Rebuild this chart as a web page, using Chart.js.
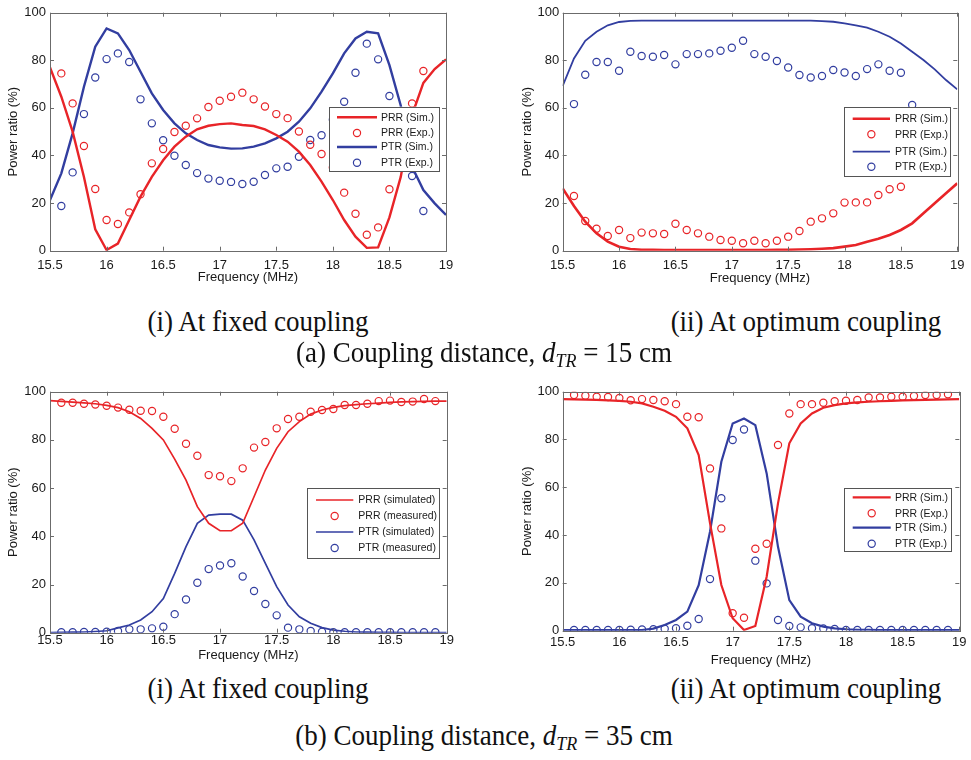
<!DOCTYPE html>
<html><head><meta charset="utf-8">
<script src="https://cdn.jsdelivr.net/npm/chart.js@4.4.0/dist/chart.umd.min.js"></script>
<style>
html,body{margin:0;padding:0;background:#fff;}
body{width:971px;height:760px;position:relative;overflow:hidden;}
canvas{position:absolute;}
.cap{position:absolute;font-family:"Liberation Serif","Times New Roman",serif;font-size:27px;line-height:27px;white-space:nowrap;color:#111;transform:translateX(-50%) scaleY(1.06);}
.cap i{font-style:italic;}
.cap sub{font-size:18px;font-style:italic;vertical-align:-5px;line-height:0;}
</style></head><body>
<canvas id="c1" width="470" height="290" style="left:0px;top:0px"></canvas>
<canvas id="c2" width="471" height="290" style="left:500px;top:0px"></canvas>
<canvas id="c3" width="470" height="300" style="left:0px;top:370px"></canvas>
<canvas id="c4" width="471" height="300" style="left:500px;top:370px"></canvas>
<div class="cap" style="left:258px;top:308px">(i) At fixed coupling</div>
<div class="cap" style="left:806px;top:308px">(ii) At optimum coupling</div>
<div class="cap" style="left:484px;top:339px">(a) Coupling distance, <i>d</i><sub>TR</sub> = 15 cm</div>
<div class="cap" style="left:258px;top:675px">(i) At fixed coupling</div>
<div class="cap" style="left:806px;top:675px">(ii) At optimum coupling</div>
<div class="cap" style="left:484px;top:722px">(b) Coupling distance, <i>d</i><sub>TR</sub> = 35 cm</div>
<script>
// ---------- data ----------
const simFreq = [15.5,15.6,15.7,15.8,15.9,16.0,16.1,16.2,16.3,16.4,16.5,16.6,16.7,16.8,16.9,17.0,17.1,17.2,17.3,17.4,17.5,17.6,17.7,17.8,17.9,18.0,18.1,18.2,18.3,18.4,18.5,18.6,18.7,18.8,18.9,19.0];

// (a)(i) fixed coupling, 15 cm
const a1PrrSim = [77,64.7,50,31,9,0.3,3,12.9,22.7,31,38,43.7,47.9,51,52.5,53.2,53.5,52.8,52.4,51,48.6,45.8,41.6,36,29,21.3,12.9,5.9,1.2,1.4,14,31,57,70.5,76.3,80.4];
const a1PtrSim = [21.3,32.5,49.3,68.9,85.7,93.4,91.3,84.3,75.2,66.1,59.1,53.5,49.3,46.5,44.4,43.4,42.9,43.0,43.7,45.1,47.2,50.0,54.2,59.8,66.8,74.5,82.9,89.2,92.0,91.3,78.0,61.0,35.3,25.5,19.9,15.0];
const a1ExpFreq = [15.6,15.7,15.8,15.9,16.0,16.1,16.2,16.3,16.4,16.5,16.6,16.7,16.8,16.9,17.0,17.1,17.2,17.3,17.4,17.5,17.6,17.7,17.8,17.9,18.0,18.1,18.2,18.3,18.4,18.5,18.6,18.7,18.8];
const a1PrrExp = [74.5,61.9,44.0,25.9,12.9,11.2,16.1,23.7,36.7,42.7,49.9,52.5,55.6,60.4,63.0,64.7,66.4,63.6,60.6,57.4,55.7,50.1,44.5,40.6,35.0,24.4,15.5,6.7,9.8,25.8,45.0,61.9,75.5];
const a1PtrExp = [18.8,32.9,57.4,72.8,80.5,82.9,79.3,63.6,53.5,46.4,39.9,36.0,32.6,30.3,29.4,28.9,28.0,29.0,31.8,34.6,35.3,39.5,46.5,48.5,55.0,62.6,74.8,87.0,80.4,65.0,45.0,31.4,16.7];

// (a)(ii) optimum coupling, 15 cm
const a2PrrSim = [26.2,18.8,12.2,7.3,3.8,1.7,0.7,0.4,0.4,0.3,0.3,0.3,0.3,0.3,0.3,0.3,0.3,0.3,0.3,0.4,0.4,0.5,0.6,0.8,1.1,1.7,2.4,3.8,5.0,6.6,8.7,11.5,15.7,19.9,24.1,28.3];
const a2PtrSim = [69.2,80.8,88.2,92.0,94.7,96.1,96.6,96.7,96.7,96.7,96.7,96.7,96.7,96.7,96.7,96.7,96.7,96.7,96.7,96.7,96.7,96.7,96.7,96.5,96.2,95.5,94.7,93.7,92.0,89.9,87.1,83.6,80.1,76.2,71.7,67.8];
const a2PrrExpFreq = [15.6,15.7,15.8,15.9,16.0,16.1,16.2,16.3,16.4,16.5,16.6,16.7,16.8,16.9,17.0,17.1,17.2,17.3,17.4,17.5,17.6,17.7,17.8,17.9,18.0,18.1,18.2,18.3,18.4,18.5];
const a2PrrExp = [23.0,12.5,9.2,6.2,8.7,5.3,7.6,7.3,7.0,11.3,8.7,7.3,5.9,4.5,4.2,3.1,4.2,3.1,4.2,5.9,8.3,12.2,13.6,15.7,20.2,20.3,20.3,23.4,25.8,26.9];
const a2PtrExpFreq = [15.6,15.7,15.8,15.9,16.0,16.1,16.2,16.3,16.4,16.5,16.6,16.7,16.8,16.9,17.0,17.1,17.2,17.3,17.4,17.5,17.6,17.7,17.8,17.9,18.0,18.1,18.2,18.3,18.4,18.5,18.6];
const a2PtrExp = [61.6,73.9,79.3,79.3,75.6,83.6,81.8,81.5,82.2,78.3,82.6,82.6,82.9,84.0,85.3,88.2,82.6,81.5,79.7,77.0,73.8,72.8,73.4,75.9,74.9,73.4,76.3,78.3,75.6,74.8,61.2];

// (b)(i) fixed coupling, 35 cm
const b1PrrSim = [96.3,96.0,95.7,95.4,95.0,94.3,93.4,91.7,88.9,84.8,80.0,72.0,63.3,52.3,45.4,42.3,42.3,45.4,56.4,67.5,76.5,83.4,87.6,90.7,92.4,93.5,94.2,94.6,95.0,95.3,95.6,95.8,95.9,96.0,96.1,96.1];
const b1PtrSim = [0,0.1,0.2,0.3,0.5,0.8,2.0,3.2,5.3,8.7,14.2,24.6,35.7,45.4,48.8,49.2,49.2,46.7,38.5,28.8,19.1,11.5,6.6,3.9,2.1,1.1,0.6,0.3,0.2,0.1,0.1,0,0,0,0,0];
const b1ExpFreq = [15.6,15.7,15.8,15.9,16.0,16.1,16.2,16.3,16.4,16.5,16.6,16.7,16.8,16.9,17.0,17.1,17.2,17.3,17.4,17.5,17.6,17.7,17.8,17.9,18.0,18.1,18.2,18.3,18.4,18.5,18.6,18.7,18.8,18.9];
const b1PrrExp = [95.4,95.4,95.0,94.7,94.2,93.4,92.5,92.1,92.0,89.6,84.6,78.4,73.4,65.4,64.9,62.9,68.2,76.8,79.1,84.8,88.7,89.6,91.7,92.4,92.8,94.5,94.5,95.0,96.1,96.3,95.7,95.9,97.0,96.1];
const b1PtrExp = [0.2,0.2,0.3,0.3,0.4,0.7,1.4,1.4,1.8,2.5,7.7,13.8,20.7,26.4,27.9,28.8,23.3,17.3,11.9,7.2,2.1,1.4,0.7,0.4,0.2,0.2,0.2,0.2,0.2,0.2,0.2,0.2,0.2,0.2];

// (b)(ii) optimum coupling, 35 cm
const b2PrrSim = [96.9,96.8,96.7,96.6,96.4,96.2,95.8,95.1,93.7,92.0,89.5,84.7,73.5,45.0,19.1,5.2,0.3,2.0,22.6,53.3,78.4,86.7,90.9,93.3,94.4,95.1,95.5,95.8,96.0,96.2,96.4,96.5,96.6,96.7,96.8,96.9];
const b2PtrSim = [0.3,0.3,0.3,0.3,0.3,0.3,0.3,0.3,0.9,2.4,4.5,8.0,19.0,41.4,70.7,86.7,88.8,86.0,65.8,35.1,12.8,5.9,3.1,1.7,1.0,0.6,0.4,0.4,0.3,0.3,0.3,0.3,0.3,0.3,0.3,0.3];
const b2ExpFreq = [15.6,15.7,15.8,15.9,16.0,16.1,16.2,16.3,16.4,16.5,16.6,16.7,16.8,16.9,17.0,17.1,17.2,17.3,17.4,17.5,17.6,17.7,17.8,17.9,18.0,18.1,18.2,18.3,18.4,18.5,18.6,18.7,18.8,18.9];
const b2PrrExp = [98.6,98.3,97.9,97.8,97.4,96.4,96.9,96.5,96.0,94.8,89.5,89.3,67.9,42.8,7.3,5.4,34.3,36.4,77.7,90.9,94.8,94.8,95.4,96.0,96.2,96.5,97.6,97.6,97.9,97.9,98.2,98.6,98.6,98.9];
const b2PtrExp = [0.3,0.3,0.3,0.3,0.3,0.4,0.5,0.6,0.8,1.0,2.1,4.9,21.6,55.4,79.8,84.2,29.3,19.8,4.5,2.0,1.4,1.0,0.9,0.7,0.3,0.3,0.3,0.3,0.3,0.3,0.3,0.3,0.3,0.3];

const xTicks = [15.5,16,16.5,17,17.5,18,18.5,19];
const yTicks = [0,20,40,60,80,100];
const labelsShort = ['PRR (Sim.)','PRR (Exp.)','PTR (Sim.)','PTR (Exp.)'];
const labelsLong = ['PRR (simulated)','PRR (measured)','PTR (simulated)','PTR (measured)'];

// ---------- styles ----------
const RED = 'rgb(232,36,40)';
const BLUE = 'rgb(50,62,160)';
const SANS = '"Liberation Sans", Arial, sans-serif';
const TXT = '#1a1a1a';

function pts(xs, ys){ return xs.map((x,i)=>({x:x, y:ys[i]})); }

const framePlugin = {
  id:'frame',
  afterDraw(chart){
    const {ctx, chartArea:a, scales} = chart;
    ctx.save();
    ctx.strokeStyle = '#6b6b6b';
    ctx.lineWidth = 1;
    ctx.strokeRect(Math.round(a.left)+0.5, Math.round(a.top)+0.5, Math.round(a.right-a.left), Math.round(a.bottom-a.top));
    const L = 4;
    ctx.beginPath();
    scales.x.ticks.forEach(t=>{
      const px = Math.round(scales.x.getPixelForValue(t.value))+0.5;
      ctx.moveTo(px, a.bottom); ctx.lineTo(px, a.bottom-L);
      ctx.moveTo(px, a.top); ctx.lineTo(px, a.top+L);
    });
    scales.y.ticks.forEach(t=>{
      const py = Math.round(scales.y.getPixelForValue(t.value))+0.5;
      ctx.moveTo(a.left, py); ctx.lineTo(a.left+L, py);
      ctx.moveTo(a.right, py); ctx.lineTo(a.right-L, py);
    });
    ctx.stroke();
    ctx.restore();
  }
};

const legendPlugin = {
  id:'mlegend',
  afterDraw(chart, args, o){
    if(!o || !o.box) return;
    const ctx = chart.ctx;
    const b = o.box;
    ctx.save();
    ctx.fillStyle = '#fff';
    ctx.fillRect(b.x, b.y, b.w, b.h);
    ctx.strokeStyle = '#555';
    ctx.lineWidth = 1;
    ctx.strokeRect(Math.round(b.x)+0.5, Math.round(b.y)+0.5, Math.round(b.w), Math.round(b.h));
    ctx.font = o.fontSize + 'px ' + SANS;
    ctx.textBaseline = 'middle';
    ctx.textAlign = 'left';
    chart.data.datasets.forEach((ds, i)=>{
      const y = o.rows[i];
      if(ds.showLine === false){
        ctx.beginPath();
        ctx.strokeStyle = ds.pointBorderColor;
        ctx.lineWidth = ds.pointBorderWidth;
        ctx.arc((o.lineX0+o.lineX1)/2, y, ds.pointRadius, 0, Math.PI*2);
        ctx.stroke();
      } else {
        ctx.beginPath();
        ctx.strokeStyle = ds.borderColor;
        ctx.lineWidth = ds.borderWidth;
        ctx.moveTo(o.lineX0, y); ctx.lineTo(o.lineX1, y);
        ctx.stroke();
      }
      ctx.fillStyle = TXT;
      ctx.fillText(ds.label, o.textX, y+0.5);
    });
    ctx.restore();
  }
};

function makeChart(id, d, lay, leg){
  const ctx = document.getElementById(id).getContext('2d');
  const expStyle = (c)=>({showLine:false, pointRadius:3.6, pointBorderWidth:1.2, pointBorderColor:c, pointBackgroundColor:'rgba(0,0,0,0)', borderColor:c, backgroundColor:'rgba(0,0,0,0)', pointHoverRadius:3.6});
  return new Chart(ctx, {
    type:'line',
    data:{datasets:[
      {label:d.labels[0], data:pts(simFreq, d.prrSim), borderColor:RED, borderWidth:d.lwR, pointRadius:0, tension:0, fill:false},
      Object.assign({label:d.labels[1], data:pts(d.prrExpFreq, d.prrExp)}, expStyle(RED)),
      {label:d.labels[2], data:pts(simFreq, d.ptrSim), borderColor:BLUE, borderWidth:d.lwB, pointRadius:0, tension:0, fill:false},
      Object.assign({label:d.labels[3], data:pts(d.ptrExpFreq, d.ptrExp)}, expStyle(BLUE))
    ]},
    options:{
      responsive:false, animation:false, devicePixelRatio:1,
      events:[],
      layout:{padding:{left:0, top:lay.top, right:lay.right, bottom:0}},
      plugins:{legend:{display:false}, tooltip:{enabled:false}, mlegend:leg},
      scales:{
        x:{type:'linear', min:15.5, max:19,
           afterBuildTicks(s){ s.ticks = xTicks.map(v=>({value:v})); },
           ticks:{padding:lay.xPad, autoSkip:false, maxRotation:0, color:TXT, font:{family:SANS, size:lay.tick}, callback:(v)=>String(v)},
           grid:{display:false, drawTicks:false}, border:{display:false},
           title:{display:true, text:'Frequency (MHz)', color:TXT, font:{family:SANS, size:lay.title}, padding:{top:0, bottom:lay.xTitlePad}},
           afterFit(s){ s.height = lay.xH; }},
        y:{type:'linear', min:0, max:100,
           afterBuildTicks(s){ s.ticks = yTicks.map(v=>({value:v})); },
           ticks:{padding:lay.yPad, color:TXT, font:{family:SANS, size:lay.tick}, callback:(v)=>String(v)},
           grid:{display:false, drawTicks:false}, border:{display:false},
           title:{display:true, text:'Power ratio (%)', color:TXT, font:{family:SANS, size:lay.title}, padding:{top:lay.yTitlePad, bottom:0}},
           afterFit(s){ s.width = lay.yW; }}
      }
    },
    plugins:[framePlugin, legendPlugin]
  });
}

makeChart('c1',
  {labels:labelsShort, prrSim:a1PrrSim, ptrSim:a1PtrSim, prrExpFreq:a1ExpFreq, prrExp:a1PrrExp, ptrExpFreq:a1ExpFreq, ptrExp:a1PtrExp, lwR:2.4, lwB:2.4},
  {top:12.7, right:24, xH:39.3, yW:50, xPad:6.5, xTitlePad:5.2, yPad:4, yTitlePad:5.5, tick:13, title:13},
  {box:{x:329.3, y:106.7, w:110, h:64.3}, rows:[117.3,133,147,162.7], lineX0:337, lineX1:377, textX:381, fontSize:10.5});

makeChart('c2',
  {labels:labelsShort, prrSim:a2PrrSim, ptrSim:a2PtrSim, prrExpFreq:a2PrrExpFreq, prrExp:a2PrrExp, ptrExpFreq:a2PtrExpFreq, ptrExp:a2PtrExp, lwR:2.6, lwB:1.8},
  {top:12.7, right:11.7, xH:39.3, yW:62.7, xPad:6.5, xTitlePad:4.2, yPad:3.4, yTitlePad:19.2, tick:13, title:13},
  {box:{x:344.3, y:107, w:105.7, h:69}, rows:[118.7,134.3,151.7,166.7], lineX0:352.7, lineX1:390, textX:395, fontSize:10.5});

makeChart('c3',
  {labels:labelsLong, prrSim:b1PrrSim, ptrSim:b1PtrSim, prrExpFreq:b1ExpFreq, prrExp:b1PrrExp, ptrExpFreq:b1ExpFreq, ptrExp:b1PtrExp, lwR:1.7, lwB:1.7},
  {top:21.7, right:23.3, xH:37.3, yW:50, xPad:0, xTitlePad:7.2, yPad:4, yTitlePad:5.2, tick:13, title:13},
  {box:{x:307.3, y:118.3, w:132, h:70}, rows:[130,146,162,178], lineX0:316, lineX1:353.3, textX:358.3, fontSize:10.5});

makeChart('c4',
  {labels:labelsShort, prrSim:b2PrrSim, ptrSim:b2PtrSim, prrExpFreq:b2ExpFreq, prrExp:b2PrrExp, ptrExpFreq:b2ExpFreq, ptrExp:b2PtrExp, lwR:2.2, lwB:2.2},
  {top:21.7, right:11.7, xH:39.3, yW:62.7, xPad:4.2, xTitlePad:2.2, yPad:3.4, yTitlePad:19.2, tick:13, title:13},
  {box:{x:344.3, y:117.7, w:106.7, h:63}, rows:[127.3,143.3,157.7,173.7], lineX0:352.7, lineX1:390.7, textX:395, fontSize:10.5});
</script>
</body></html>
